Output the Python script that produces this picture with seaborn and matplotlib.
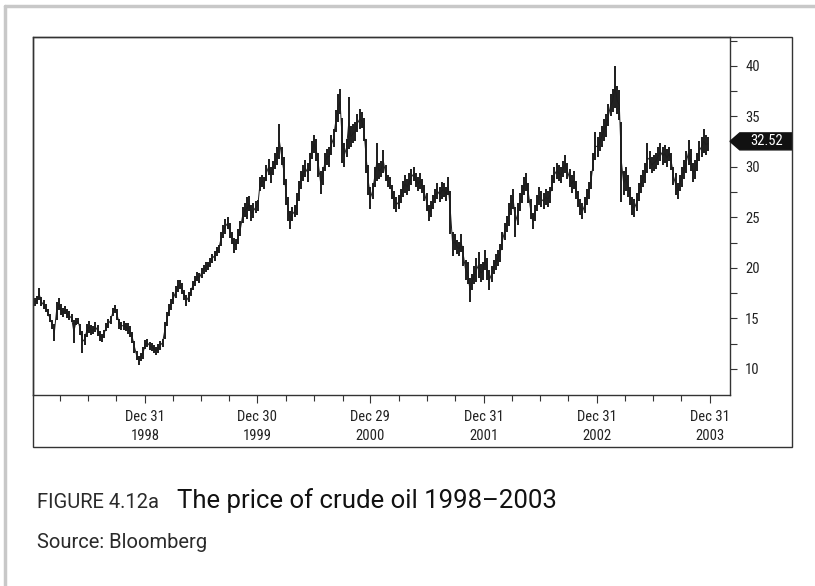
import matplotlib
matplotlib.use('Agg')
import matplotlib.pyplot as plt
from matplotlib import font_manager
from matplotlib.patches import Rectangle, Polygon
from matplotlib.lines import Line2D
import seaborn as sns
import pandas as pd

# weekly highs / lows (USD per barrel)
hi_1998 = [17.4, 17.0, 17.2, 18.0, 17.1, 16.8, 16.4, 15.9, 15.4, 14.8,
           14.4, 16.6, 17.0, 16.4, 16.0, 16.2, 15.9, 15.7, 15.4, 14.8,
           15.0, 15.0, 14.4, 13.8, 13.5, 14.4, 14.7, 14.3, 14.2, 14.6,
           14.3, 13.8, 13.5, 13.9, 14.5, 14.9, 15.2, 16.0, 16.3, 15.9,
           14.9, 14.6, 14.7, 14.5, 14.5, 14.2, 13.7, 12.8, 11.8, 11.3,
           11.6, 12.2]
lo_1998 = [16.6, 16.2, 16.4, 16.8, 16.2, 15.9, 15.6, 15.2, 14.6, 14.0,
           12.8, 14.8, 15.8, 15.3, 15.1, 15.4, 15.0, 14.8, 14.6, 12.6,
           14.3, 14.4, 13.4, 11.6, 12.4, 13.2, 13.6, 13.4, 13.5, 13.7,
           13.3, 12.8, 12.7, 13.1, 13.8, 14.1, 14.4, 15.2, 15.5, 14.8,
           14.0, 13.9, 13.9, 13.8, 13.5, 13.2, 12.6, 11.6, 10.9, 10.4,
           10.8, 11.0]

hi_1999 = [12.9, 13.0, 12.7, 12.6, 12.4, 12.2, 12.5, 12.8, 13.0, 14.6,
           15.6, 16.4, 16.9, 17.6, 18.2, 18.8, 18.8, 18.5, 17.8, 17.3,
           17.6, 18.0, 18.7, 19.2, 19.6, 19.5, 20.0, 20.3, 20.6, 20.6,
           21.0, 21.4, 21.7, 22.1, 22.3, 23.6, 24.2, 24.8, 25.0, 24.4,
           23.6, 23.0, 22.9, 23.8, 24.6, 26.0, 26.4, 27.0, 27.1, 26.2,
           26.4, 26.6, 26.7]
lo_1999 = [12.0, 12.2, 11.9, 11.8, 11.6, 11.4, 11.6, 11.9, 12.2, 13.0,
           14.2, 15.2, 15.8, 16.4, 17.0, 17.6, 17.9, 17.4, 16.8, 16.2,
           16.6, 17.2, 17.8, 18.2, 18.7, 18.5, 19.0, 19.4, 19.6, 19.8,
           20.1, 20.5, 20.7, 21.2, 21.5, 22.2, 23.0, 23.4, 23.8, 23.0,
           22.4, 21.5, 21.8, 22.4, 23.2, 24.4, 25.0, 24.8, 25.6, 24.6,
           24.9, 25.4, 25.6]

hi_2000 = [29.0, 29.2, 29.0, 30.2, 30.8, 30.0, 30.6, 31.4, 32.0, 34.2,
           32.0, 31.0, 28.8, 27.0, 25.6, 26.0, 26.2, 27.4, 28.6, 29.6,
           30.2, 30.7, 30.4, 31.4, 32.6, 33.2, 32.8, 31.4, 29.6, 30.0,
           31.4, 31.8, 32.0, 33.2, 33.7, 35.6, 37.2, 37.7, 34.8, 32.4,
           32.8, 36.9, 34.0, 34.2, 34.4, 35.2, 35.7, 35.4, 34.8, 32.8,
           30.2, 28.0]
lo_2000 = [27.6, 28.0, 27.8, 28.6, 29.2, 28.4, 29.2, 29.8, 30.2, 30.8,
           30.2, 28.2, 26.2, 24.6, 23.8, 24.6, 25.0, 25.2, 26.6, 27.8,
           28.6, 29.0, 28.5, 29.6, 30.8, 31.4, 30.6, 29.0, 27.3, 28.2,
           29.6, 30.2, 30.0, 31.2, 32.0, 33.4, 34.4, 35.2, 30.4, 30.0,
           31.0, 31.8, 32.0, 32.4, 32.6, 33.4, 33.7, 33.8, 32.6, 29.4,
           27.2, 25.8]

hi_2001 = [28.4, 30.0, 32.4, 30.4, 30.6, 31.7, 30.2, 29.2, 29.0, 28.2,
           27.6, 27.0, 27.2, 27.8, 28.6, 29.2, 28.8, 29.4, 29.8, 30.0,
           29.4, 29.0, 29.4, 28.8, 28.2, 27.4, 26.2, 26.6, 27.2, 27.8,
           28.4, 28.0, 28.5, 28.4, 28.0, 29.0, 27.6, 23.6, 23.4, 22.8,
           22.6, 23.4, 22.2, 20.8, 20.6, 19.0, 19.4, 20.2, 21.0, 21.6,
           20.4, 20.6]
lo_2001 = [26.8, 28.0, 28.6, 28.8, 29.0, 29.4, 28.6, 28.0, 27.8, 26.8,
           25.8, 25.5, 25.8, 26.4, 27.0, 27.4, 27.2, 27.6, 28.2, 28.6,
           28.0, 27.6, 27.8, 27.4, 26.6, 25.6, 24.6, 25.0, 25.8, 26.4,
           26.8, 26.5, 26.8, 27.0, 26.6, 27.2, 23.4, 21.2, 21.8, 21.4,
           21.2, 21.6, 20.2, 18.8, 18.4, 16.6, 17.8, 18.4, 18.6, 19.0,
           18.6, 18.8]

hi_2002 = [21.8, 21.0, 19.8, 20.2, 20.8, 21.4, 21.8, 22.4, 23.6, 24.4,
           25.1, 26.4, 27.2, 27.8, 26.0, 26.4, 27.4, 28.2, 29.0, 29.4,
           28.4, 26.8, 25.4, 26.2, 27.2, 28.0, 27.6, 27.4, 27.8, 27.6,
           28.0, 29.2, 30.0, 30.4, 30.2, 30.0, 30.6, 31.2, 30.4, 29.8,
           29.2, 29.6, 28.6, 27.6, 26.8, 26.4, 27.0, 27.8, 28.5, 29.6,
           31.4, 33.4]
lo_2002 = [19.8, 18.8, 17.8, 18.6, 19.4, 19.8, 20.2, 20.6, 21.8, 22.8,
           23.6, 24.1, 25.2, 25.8, 23.1, 24.2, 25.6, 26.4, 27.2, 27.6,
           26.4, 24.8, 23.8, 24.6, 25.6, 26.2, 26.0, 25.8, 26.2, 26.0,
           26.4, 27.6, 28.4, 28.8, 28.6, 28.4, 29.0, 29.4, 28.8, 28.0,
           27.4, 27.8, 26.8, 26.0, 25.2, 24.8, 25.4, 26.2, 26.8, 27.8,
           29.6, 30.7]

hi_2003 = [33.0, 33.4, 34.0, 34.7, 35.2, 36.2, 37.2, 37.7, 40.0, 38.0,
           37.6, 34.4, 29.6, 30.0, 29.2, 28.0, 27.0, 26.8, 27.4, 28.4,
           29.2, 29.7, 30.4, 32.4, 31.6, 31.0, 31.2, 31.4, 32.0, 32.4,
           32.0, 32.2, 31.8, 32.0, 31.4, 30.0, 29.4, 28.4, 29.2, 30.0,
           30.7, 31.6, 32.7, 31.8, 30.4, 30.7, 31.4, 32.6, 33.0, 33.7,
           33.2, 33.0]
lo_2003 = [31.0, 31.6, 32.0, 32.6, 33.0, 34.0, 35.0, 35.4, 35.8, 35.2,
           34.6, 26.5, 27.2, 27.6, 27.0, 26.2, 25.2, 25.0, 25.6, 26.6,
           27.4, 28.0, 28.4, 29.4, 29.8, 29.4, 29.6, 29.8, 30.2, 30.6,
           30.2, 30.4, 30.0, 30.6, 29.7, 28.2, 27.2, 26.8, 27.6, 28.0,
           28.8, 29.4, 30.2, 29.6, 28.5, 28.8, 29.6, 30.6, 31.0, 31.4,
           31.2, 31.6]

last_close = 32.52

major_dates = ['1998-12-31', '1999-12-30', '2000-12-29',
               '2001-12-31', '2002-12-31', '2003-12-31']
major_labels = ['Dec 31\n1998', 'Dec 30\n1999', 'Dec 29\n2000',
                'Dec 31\n2001', 'Dec 31\n2002', 'Dec 31\n2003']
y_major = [10, 15, 20, 25, 30, 35, 40]
y_minor = [12.5, 17.5, 22.5, 27.5, 32.5, 37.5, 42.5]

# --- build weekly frame
years = {1998: (hi_1998, lo_1998), 1999: (hi_1999, lo_1999),
         2000: (hi_2000, lo_2000), 2001: (hi_2001, lo_2001),
         2002: (hi_2002, lo_2002), 2003: (hi_2003, lo_2003)}
parts = []
for yr, (hi, lo) in years.items():
    assert len(hi) == len(lo)
    d = pd.date_range(f'{yr}-01-01', periods=len(hi), freq='W-FRI')
    parts.append(pd.DataFrame({'date': d, 'high': hi, 'low': lo}))
df = pd.concat(parts, ignore_index=True)
df['mid'] = (df['high'] + df['low']) / 2

sns.set_style('ticks')
installed = {f.name for f in font_manager.fontManager.ttflist}
narrow = [f for f in ['Roboto Condensed', 'Liberation Sans Narrow', 'Liberation Sans']
          if f in installed]
plt.rcParams['font.family'] = narrow + ['DejaVu Sans']
caption_font = ['Roboto', 'DejaVu Sans']

W, H = 815, 586
fig = plt.figure(figsize=(W / 100, H / 100), dpi=100)
ax = fig.add_axes([33 / W, 1 - 395 / H, 697 / W, 358 / H])

ink = '#1c1c1c'
ax.vlines(df['date'], df['low'], df['high'], color=ink, lw=1.4)
sns.lineplot(data=df, x='date', y='mid', color=ink, lw=0.7, ax=ax)

ax.set_xlim(pd.Timestamp('1998-01-03'), pd.Timestamp('2004-03-06'))
ax.set_ylim(7.42, 42.85)
ax.set_xlabel('')
ax.set_ylabel('')

# x axis: quarter ticks, labelled at year end
minor = [pd.Timestamp(f'{y}-{md}') for y in range(1998, 2004)
         for md in ['03-31', '06-30', '09-30']]
ax.set_xticks(pd.to_datetime(major_dates))
ax.set_xticklabels(major_labels, linespacing=1.45)
ax.set_xticks(minor, minor=True)
ax.tick_params(axis='x', which='major', length=6, width=0.8, color='#333',
               labelsize=10.5, pad=5, labelcolor='#222')
ax.tick_params(axis='x', which='minor', length=4, width=0.8, color='#333')

# y axis on the right
ax.yaxis.tick_right()
ax.set_yticks(y_major)
ax.set_yticks(y_minor, minor=True)
ax.tick_params(axis='y', which='both', length=5, width=0.8, color='#333',
               labelsize=10.5, pad=6, labelcolor='#222')

for s in ax.spines.values():
    s.set_color('#333')
    s.set_linewidth(1.0)

# price tag for the last value
tr = ax.get_yaxis_transform()
hh = 0.84
tag = Polygon([(1.0, last_close), (1.014, last_close + hh), (1.089, last_close + hh),
               (1.089, last_close - hh), (1.014, last_close - hh)],
              closed=True, transform=tr, clip_on=False, color='#111', zorder=5)
ax.add_patch(tag)
ax.text(1.053, last_close, f'{last_close:.2f}', transform=tr, color='white',
        fontsize=10.5, ha='center', va='center', zorder=6, clip_on=False)

# surrounding box and page frame
fig.add_artist(Rectangle((33 / W, 1 - 447 / H), 759 / W, 410 / H, fill=False,
                         edgecolor='#333', lw=1.0, transform=fig.transFigure))
fig.add_artist(Line2D([5 / W, 1], [1 - 6 / H, 1 - 6 / H], color='#c8c8c8', lw=2.5,
                      transform=fig.transFigure))
fig.add_artist(Line2D([5 / W, 5 / W], [0, 1 - 6 / H], color='#c8c8c8', lw=2.5,
                      transform=fig.transFigure))

# caption
fig.text(37 / W, 1 - 508 / H, 'FIGURE 4.12a', fontsize=14.5, color='#2a2a2a',
         va='baseline', family=caption_font)
fig.text(177 / W, 1 - 508 / H, 'The price of crude oil 1998\u20132003', fontsize=18.5,
         color='#111', va='baseline', family=caption_font)
fig.text(37 / W, 1 - 548 / H, 'Source: Bloomberg', fontsize=14.5, color='#2a2a2a',
         va='baseline', family=caption_font)

fig.savefig('out.png', dpi=100)
